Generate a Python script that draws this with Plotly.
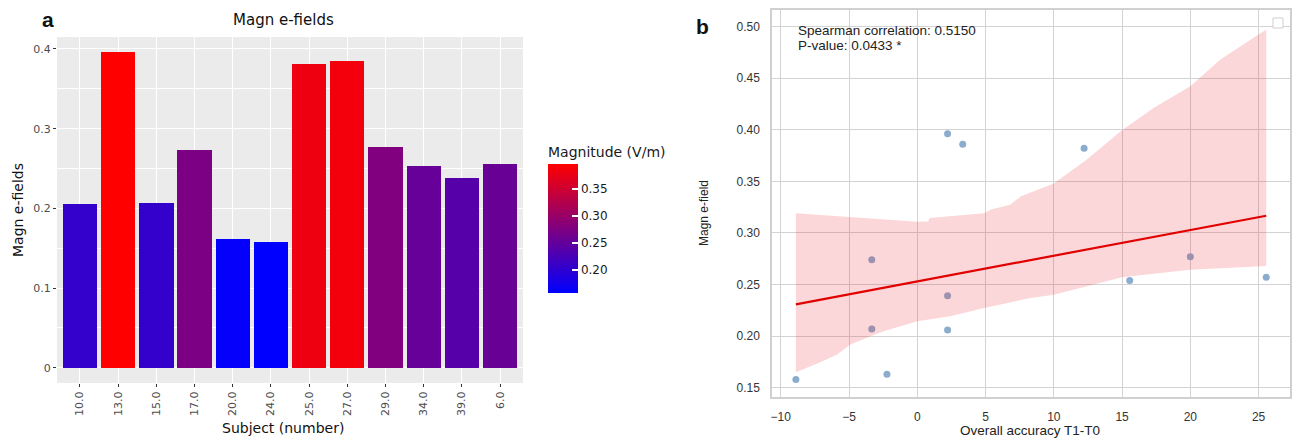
import numpy as np
import plotly.graph_objects as go

# ---------------- data ----------------
subjects = ["10.0", "13.0", "15.0", "17.0", "20.0", "24.0", "25.0", "27.0", "29.0", "34.0", "39.0", "6.0"]
magn = [0.206, 0.396, 0.207, 0.273, 0.162, 0.158, 0.381, 0.385, 0.277, 0.253, 0.238, 0.256]

acc_change = [-8.89, -3.33, -3.33, -2.22, 2.22, 2.22, 2.22, 3.33, 12.22, 15.56, 20.0, 25.56]
acc_magn = [0.158, 0.274, 0.207, 0.163, 0.239, 0.206, 0.396, 0.386, 0.382, 0.254, 0.277, 0.257]

ci_upper_x = [-8.89, -5.0, -2.7, 0.0, 0.8, 0.9, 4.9, 5.4, 6.8, 7.6, 10.0, 12.4, 14.9, 17.3, 20.0, 22.2, 25.56]
ci_upper_y = [0.319, 0.3155, 0.313, 0.3107, 0.311, 0.3145, 0.319, 0.3226, 0.3274, 0.3355, 0.348, 0.371, 0.3985, 0.421, 0.442, 0.468, 0.497]
ci_lower_x = [-8.89, -7.1, -5.9, -4.9, -2.7, 0.0, 2.4, 4.9, 8.3, 10.0, 15.0, 20.0, 25.56]
ci_lower_y = [0.165, 0.1746, 0.182, 0.1918, 0.2037, 0.2144, 0.2192, 0.2273, 0.237, 0.2402, 0.257, 0.2644, 0.268]

cbar_ticks = [0.20, 0.25, 0.30, 0.35]
stats_text = ["Spearman correlation: 0.5150", "P-value: 0.0433 *"]

W, H = 1298, 439
def px(x):
    return x / W
def py(y):
    return 1 - y / H

GG = "DejaVu Sans"
MPL = "Liberation Sans, Arial"

fig = go.Figure()

# ---------------- panel a ----------------
fig.add_trace(go.Bar(
    x=subjects, y=magn, width=0.9,
    marker=dict(
        color=magn, colorscale=[[0, "rgb(0,0,255)"], [1, "rgb(255,0,0)"]],
        cmin=min(magn), cmax=max(magn), line=dict(width=0),
        colorbar=dict(
            title=dict(text="Magnitude (V/m)", side="top", font=dict(family=GG, size=14, color="#1a1a1a")),
            x=px(548), xanchor="left", y=py(218), yanchor="middle",
            len=150, lenmode="pixels", thickness=30, thicknessmode="pixels",
            tickvals=cbar_ticks, tickformat=".2f",
            ticks="inside", ticklen=6, tickcolor="white", tickwidth=2,
            tickfont=dict(family=GG, size=12, color="#1a1a1a"),
            outlinewidth=0, xpad=0, ypad=0,
        ),
    ),
    xaxis="x", yaxis="y", showlegend=False,
))

# ---------------- panel b ----------------
fig.add_trace(go.Scatter(
    x=acc_change, y=acc_magn, mode="markers",
    marker=dict(color="rgb(140,172,205)", size=7),
    xaxis="x2", yaxis="y2", showlegend=False,
))
band_x = ci_upper_x + ci_lower_x[::-1]
band_y = ci_upper_y + ci_lower_y[::-1]
fig.add_trace(go.Scatter(
    x=band_x, y=band_y, mode="lines", fill="toself",
    fillcolor="rgba(240,20,30,0.17)", line=dict(width=0),
    xaxis="x2", yaxis="y2", showlegend=False, hoverinfo="skip",
))
slope, intercept = np.polyfit(acc_change, acc_magn, 1)
xl = np.array([min(acc_change), max(acc_change)])
fig.add_trace(go.Scatter(
    x=xl, y=slope * xl + intercept, mode="lines",
    line=dict(color="rgb(225,0,0)", width=2.2),
    xaxis="x2", yaxis="y2", showlegend=False,
))

fig.update_layout(
    width=W, height=H,
    margin=dict(l=0, r=0, t=0, b=0),
    paper_bgcolor="white",
    plot_bgcolor="white",
    bargap=0,
    xaxis=dict(
        domain=[px(57), px(523)], anchor="y",
        type="category", range=[-0.6, 11.6],
        showgrid=True, gridcolor="white", gridwidth=1.2,
        ticks="outside", ticklen=3, tickcolor="#333333", tickwidth=1,
        tickangle=-90, tickfont=dict(family=GG, size=11, color="#4d4d4d"),
        showline=False, zeroline=False, automargin=False, layer="above traces",
    ),
    yaxis=dict(
        domain=[py(383), py(37)], anchor="x",
        range=[-0.019, 0.415],
        tickvals=[0, 0.1, 0.2, 0.3, 0.4], ticktext=["0", "0.1", "0.2", "0.3", "0.4"],
        showgrid=True, gridcolor="white", gridwidth=1.2,
        minor=dict(dtick=0.05, tick0=0, showgrid=True, gridcolor="white", gridwidth=0.5),
        ticks="outside", ticklen=3, tickcolor="#333333", tickwidth=1,
        tickfont=dict(family=GG, size=11, color="#4d4d4d"),
        showline=False, zeroline=False, automargin=False,
    ),
    xaxis2=dict(
        domain=[px(772), px(1290)], anchor="y2",
        range=[-10.64, 27.3],
        tickvals=[-10, -5, 0, 5, 10, 15, 20, 25],
        showgrid=True, gridcolor="#d3d3d3", gridwidth=1,
        ticks="", ticklabelstandoff=8,
        tickfont=dict(family=MPL, size=12, color="#333333"),
        showline=True, mirror=True, linecolor="#d0d0d0", linewidth=1.5,
        zeroline=False, automargin=False,
    ),
    yaxis2=dict(
        domain=[py(397), py(10)], anchor="x2",
        range=[0.141, 0.516],
        tickvals=[0.15, 0.20, 0.25, 0.30, 0.35, 0.40, 0.45, 0.50], tickformat=".2f",
        showgrid=True, gridcolor="#d3d3d3", gridwidth=1,
        ticks="", ticklabelstandoff=8,
        tickfont=dict(family=MPL, size=12, color="#333333"),
        showline=True, mirror=True, linecolor="#d0d0d0", linewidth=1.5,
        zeroline=False, automargin=False,
    ),
)

# grey ggplot panel background for panel a
fig.add_shape(type="rect", xref="x domain", yref="y domain", x0=0, x1=1, y0=0, y1=1,
              fillcolor="#ebebeb", line=dict(width=0), layer="below")

annos = [
    dict(text="<b>a</b>", x=px(48), y=py(20), font=dict(family=MPL, size=21, color="#111")),
    dict(text="<b>b</b>", x=px(702), y=py(26), font=dict(family=MPL, size=21, color="#111")),
    dict(text="Magn e-fields", x=px(283), y=py(20), font=dict(family=GG, size=15, color="#111")),
    dict(text="Magn e-fields", x=px(18), y=py(210), textangle=-90, font=dict(family=GG, size=14, color="#111")),
    dict(text="Subject (number)", x=px(283), y=py(428), font=dict(family=GG, size=14, color="#111")),
    dict(text="Magn e-field", x=px(704), y=py(213), textangle=-90, font=dict(family=MPL, size=12, color="#222")),
    dict(text="Overall accuracy T1-T0", x=px(1030), y=py(430.5), font=dict(family=MPL, size=13.5, color="#222")),
]
for a in annos:
    fig.add_annotation(xref="paper", yref="paper", showarrow=False, xanchor="center", yanchor="middle", **a)
for i, t in enumerate(stats_text):
    fig.add_annotation(xref="paper", yref="paper", showarrow=False, xanchor="left", yanchor="middle",
                       x=px(796), y=py(30 + 15 * i), text=t,
                       font=dict(family=MPL, size=13.5, color="#222"))

# empty legend box (as in the original)
fig.add_shape(type="rect", xref="paper", yref="paper",
              x0=px(1273), x1=px(1283), y0=py(28), y1=py(18),
              line=dict(color="#cfcfcf", width=1), fillcolor="white")

fig.write_html("out.html", config={"displayModeBar": False},
               post_script="document.body.style.margin='0';document.body.style.overflow='hidden';")
